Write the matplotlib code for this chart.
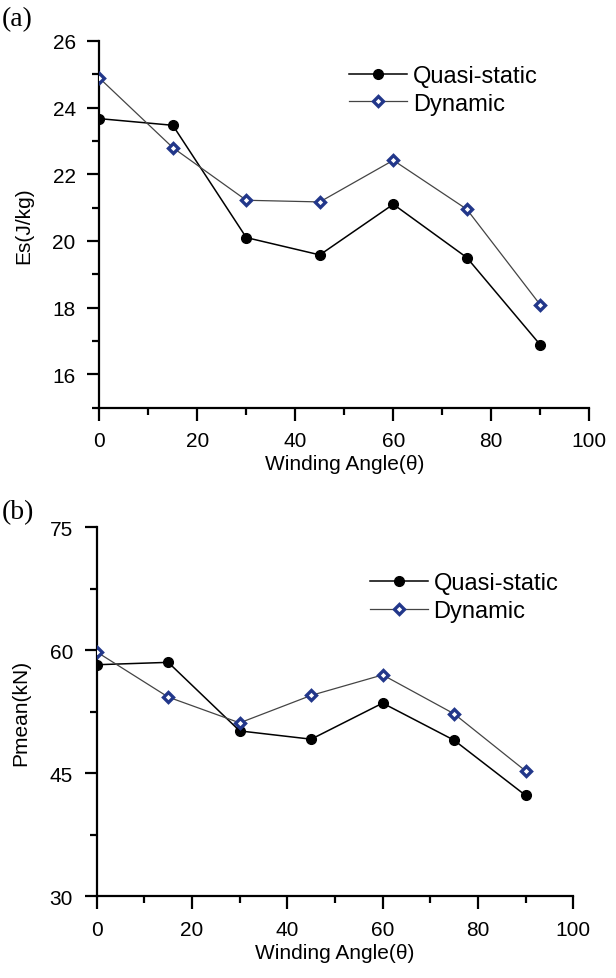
import matplotlib
matplotlib.use("Agg")
import matplotlib.pyplot as plt
from matplotlib.ticker import MultipleLocator

plt.rcParams["font.family"] = ["Liberation Sans", "DejaVu Sans"]

# winding angle (deg)
angle = [0, 15, 30, 45, 60, 75, 90]

# (a) specific energy absorption Es (J/kg)
es_quasi = [23.67, 23.47, 20.10, 19.58, 21.10, 19.50, 16.88]
es_dyn = [24.89, 22.80, 21.22, 21.17, 22.42, 20.95, 18.08]

# (b) mean crushing force Pmean (kN)
pm_quasi = [58.24, 58.53, 50.17, 49.16, 53.56, 49.03, 42.30]
pm_dyn = [59.80, 54.30, 51.15, 54.50, 57.00, 52.25, 45.28]

labels = ["Quasi-static", "Dynamic"]
navy = "#22378a"

fig = plt.figure(figsize=(6.16, 9.79), dpi=100)
ax1 = fig.add_axes([99.3 / 616, 1 - 408.5 / 979, 490 / 616, 366.5 / 979])
ax2 = fig.add_axes([96.7 / 616, 1 - 897.3 / 979, 476.6 / 616, 369 / 979])


def draw(ax, yq, yd, ylim, major, minor, ylabel, leg_anchor):
    ax.plot(angle, yq, "-", color="black", lw=1.1, marker="o", ms=7.0,
            mfc="black", mec="black", label=labels[0], zorder=3)
    ax.plot(angle, yd, "-", color="#444444", lw=0.9, marker="D", ms=5.2,
            mfc="white", mec=navy, mew=2.4, label=labels[1], zorder=4)
    ax.set_xlim(0, 100)
    ax.set_ylim(*ylim)
    ax.xaxis.set_major_locator(MultipleLocator(20))
    ax.xaxis.set_minor_locator(MultipleLocator(10))
    ax.yaxis.set_major_locator(MultipleLocator(major))
    ax.yaxis.set_minor_locator(MultipleLocator(minor))
    for s in ["top", "right"]:
        ax.spines[s].set_visible(False)
    for s in ["left", "bottom"]:
        ax.spines[s].set_linewidth(1.6)
    ax.tick_params(which="major", direction="out", length=9, width=1.6,
                   labelsize=15, pad=8)
    ax.tick_params(which="minor", direction="out", length=5, width=1.6)
    ax.set_xlabel("Winding Angle(\u03b8)", fontsize=15, labelpad=3)
    ax.set_ylabel(ylabel, fontsize=15, labelpad=14)
    ax.legend(loc="upper left", bbox_to_anchor=leg_anchor, frameon=False,
              fontsize=17, handlelength=2.45, handletextpad=0.25,
              labelspacing=0.25, borderpad=0, borderaxespad=0)


draw(ax1, es_quasi, es_dyn, (15, 26), 2, 1, "Es(J/kg)", (0.51, 0.935))
draw(ax2, pm_quasi, pm_dyn, (30, 75), 15, 7.5, "Pmean(kN)", (0.573, 0.879))

fig.text(0.003, 1 - 20 / 979, "(a)", family="Liberation Serif", fontsize=20,
         va="center", ha="left")
fig.text(0.003, 1 - 513 / 979, "(b)", family="Liberation Serif", fontsize=20,
         va="center", ha="left")

fig.savefig("out.png", dpi=100)
